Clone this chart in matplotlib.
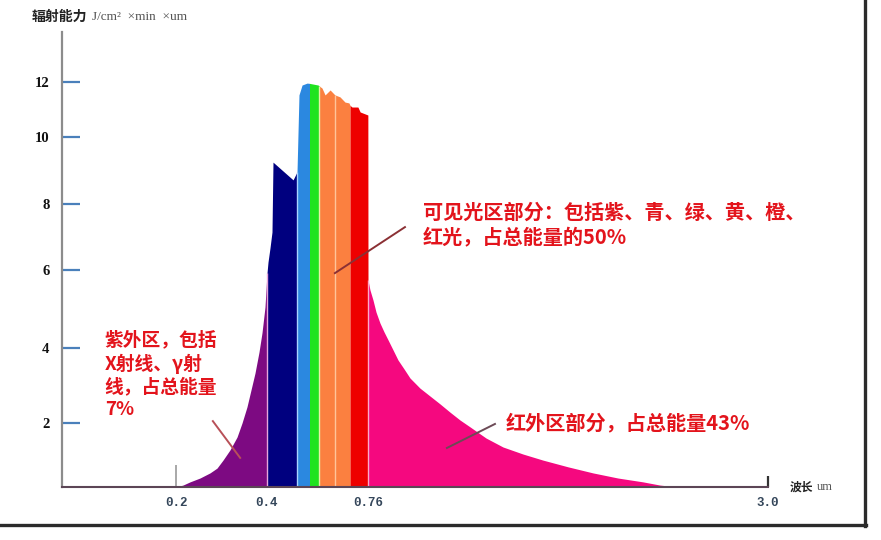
import numpy as np
import matplotlib
matplotlib.use("Agg")
import matplotlib.pyplot as plt
from matplotlib.lines import Line2D

# outline of the radiation curve: wavelength (um) / irradiance
wavelength = np.array([0.2000, 0.2154, 0.2308, 0.2527, 0.2747, 0.2901, 0.3033, 0.3187, 0.3341, 0.3451,
                       0.3560, 0.3648, 0.3736, 0.3824, 0.3890, 0.3956, 0.4000,
                       0.4036, 0.4107, 0.4178, 0.4214, 0.493, 0.507,
                       0.514, 0.525, 0.543, 0.5515,
                       0.582, 0.587,
                       0.596, 0.607, 0.625, 0.642, 0.660, 0.678, 0.692, 0.696,
                       0.703, 0.724, 0.732, 0.7595,
                       0.760, 0.771, 0.788, 0.805, 0.827, 0.850, 0.872, 0.900, 0.928, 0.962,
                       0.995, 1.051, 1.107, 1.163, 1.219, 1.275, 1.331, 1.421, 1.516, 1.628,
                       1.740, 1.880, 2.020, 2.160, 2.300, 2.395, 2.491])
irradiance = np.array([0.0, 0.06, 0.16, 0.28, 0.44, 0.59, 0.84, 1.16, 1.56, 2.00,
                       2.43, 2.88, 3.33, 3.89, 4.39, 5.05, 5.92,
                       6.24, 6.67, 7.15, 9.25, 8.72, 8.96,
                       11.53, 11.89, 11.96, 11.95,
                       11.89, 11.85,
                       11.78, 11.53, 11.71, 11.53, 11.46, 11.27, 11.24, 11.15,
                       11.09, 11.09, 10.91, 10.80,
                       5.74, 5.49, 5.23, 4.92, 4.64, 4.41, 4.21, 3.95, 3.68, 3.44,
                       3.20, 2.93, 2.72, 2.51, 2.29, 2.08, 1.88, 1.53, 1.25, 1.03,
                       0.84, 0.63, 0.44, 0.28, 0.16, 0.06, 0.0])

# colour bands (uv, violet, blue, green, orange, red, infrared)
band_edges = [0.2, 0.4, 0.507, 0.5515, 0.587, 0.696, 0.76, 2.491]
band_colors = ["#7d0a82", "#00007f", "#2b88e0", "#1fe31f", "#fb8040", "#ee0000", "#f5087f"]
stripe_wl = [0.4, 0.507, 0.587, 0.642, 0.76]
stripe_colors = ["#e6a6dc", "#a8d4ff", "#e6f0a8", "#ffc49a", "#ffa8c8"]

x_ticks = [0.2, 0.4, 0.76, 3.0]
x_labels = ["0.2", "0.4", "0.76", "3.0"]
y_ticks = [2, 4, 6, 8, 10, 12]

uv_line = ([0.281, 0.341], [2.05, 0.91])
vis_line = ([0.642, 0.967], [5.92, 7.30])
ir_line = ([1.202, 1.471], [1.22, 1.97])

uv_text = "紫外区，包括\nX射线、γ射\n线，占总能量\n7%"
vis_text = "可见光区部分：包括紫、青、绿、黄、橙、\n红光，占总能量的50%"
ir_text = "红外区部分，占总能量43%"

W, H = 881, 540
CJK = ["Noto Sans CJK SC", "DejaVu Sans"]
RED = "#e3141c"


def piecewise(xs, ys):
    xs = np.asarray(xs, float)
    ys = np.asarray(ys, float)

    def f(v):
        v = np.asarray(v, float)
        out = np.interp(v, xs, ys)
        out = np.where(v < xs[0], ys[0] + (v - xs[0]) * (ys[1] - ys[0]) / (xs[1] - xs[0]), out)
        out = np.where(v > xs[-1], ys[-1] + (v - xs[-1]) * (ys[-1] - ys[-2]) / (xs[-1] - xs[-2]), out)
        return out
    return f


# the drawing is not to scale: map ticks onto their drawn pixel positions
xk = [0, 0.2, 0.4, 0.76, 3.0]
xp = [62, 176, 267, 368, 768]
yk = [0, 2, 4, 6, 8, 10, 12, 14]
yp = [0, 64, 139, 217, 283, 350, 405, 465]

fig = plt.figure(figsize=(W / 100, H / 100), dpi=100)
ax = fig.add_axes([62 / W, (H - 487) / H, (768 - 62) / W, (487 - 32) / H])
ax.set_xscale("function", functions=(piecewise(xk, xp), piecewise(xp, xk)))
ax.set_yscale("function", functions=(piecewise(yk, yp), piecewise(yp, yk)))
ax.set_xlim(0, 3.0)
ax.set_ylim(0, float(piecewise(yp, yk)(455)))

for i, c in enumerate(band_colors):
    m = (wavelength >= band_edges[i]) & (wavelength <= band_edges[i + 1])
    ax.fill_between(wavelength[m], irradiance[m], color=c, lw=0)
ax.vlines(stripe_wl, 0, np.interp(stripe_wl, wavelength, irradiance), colors=stripe_colors, lw=1)

ax.plot(*uv_line, color="#b85058", lw=1.4)
ax.plot(*vis_line, color="#8b3034", lw=1.4)
ax.plot(*ir_line, color="#6c4a56", lw=1.4)

ax.text(0.075, 3.28, uv_text, color=RED, fontsize=13.5, fontweight="bold", family=CJK,
        ha="left", va="center", linespacing=1.25)
ax.text(1.068, 7.38, vis_text, color=RED, fontsize=14.5, fontweight="bold", family=CJK,
        ha="left", va="center", linespacing=1.2)
ax.text(1.529, 2.0, ir_text, color=RED, fontsize=14.5, fontweight="bold", family=CJK,
        ha="left", va="center")

for s in ["top", "right"]:
    ax.spines[s].set_visible(False)
ax.spines["left"].set_color("#8c8c8c")
ax.spines["left"].set_linewidth(1.6)
ax.spines["bottom"].set_color("#5c4656")
ax.spines["bottom"].set_linewidth(1.5)

ax.set_yticks(y_ticks, [str(t) for t in y_ticks], family="Liberation Serif",
              fontweight="bold", fontsize=10.5, color="#111111")
ax.tick_params(axis="y", direction="in", length=13, width=1.6, color="#4a80bb", pad=9)
ax.set_xticks(x_ticks, x_labels, family="Liberation Mono", fontweight="bold",
              fontsize=9, color="#34465a")
ax.tick_params(axis="x", direction="in", length=0, pad=7)
xt = ax.xaxis.get_major_ticks()
xt[0].tick1line.set_markersize(16)
xt[0].tick1line.set_markeredgewidth(1.2)
xt[0].tick1line.set_markeredgecolor("#9a9a9a")
xt[3].tick1line.set_markersize(8)
xt[3].tick1line.set_markeredgewidth(1.6)
xt[3].tick1line.set_markeredgecolor("#333333")

# axis titles
fig.text(32 / W, 1 - 17 / H, "辐射能力", family=CJK, fontweight="bold", fontsize=10,
         va="center", ha="left", color="#222222")
fig.text(92 / W, 1 - 17 / H, "J/cm²  ×min  ×um", family="Liberation Serif", fontsize=9.5,
         va="center", ha="left", color="#555555")
fig.text(790 / W, 1 - 487 / H, "波长", family=CJK, fontweight="bold", fontsize=8.5,
         va="center", ha="left", color="#222222")
fig.text(817 / W, 1 - 487 / H, "um", family="Liberation Serif", fontsize=9,
         va="center", ha="left", color="#555555")

# picture frame (right and bottom edges)
fig.add_artist(Line2D([865 / W, 865 / W], [1, 1 - 526 / H], color="#2b2b2b", lw=2.4,
                      transform=fig.transFigure))
fig.add_artist(Line2D([0, 866 / W], [1 - 525 / H, 1 - 525 / H], color="#2b2b2b", lw=2.4,
                      transform=fig.transFigure))

fig.savefig("out.png", dpi=100)
